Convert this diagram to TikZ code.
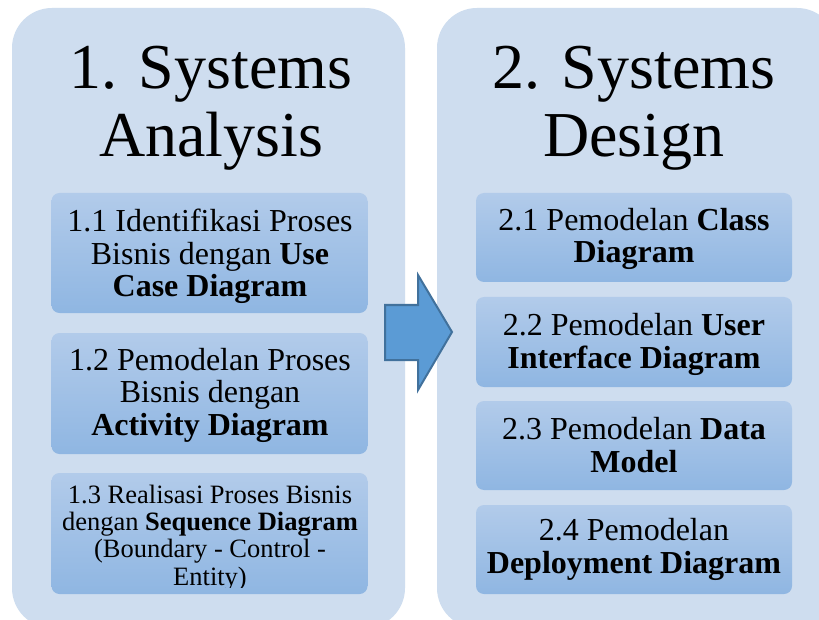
\documentclass[tikz,border=0pt]{standalone}
\usepackage{fontspec}
\setmainfont{Liberation Serif}
\definecolor{panel}{HTML}{CEDDEF}
\definecolor{boxtop}{HTML}{B2CBEA}
\definecolor{boxbot}{HTML}{8FB6E2}
\definecolor{arrowfill}{HTML}{5B9BD5}
\definecolor{arrowline}{HTML}{41719C}
\begin{document}
\begin{tikzpicture}[x=1pt,y=-1pt,
  panelbox/.style={fill=panel, draw=none, rounded corners=40pt, inner sep=0pt},
  stepbox/.style={rounded corners=8pt, top color=boxtop, bottom color=boxbot,
    minimum width=316pt, minimum height=#1, inner sep=0pt},
  steptext/.style={align=center, inner sep=0pt, anchor=base, font=\fontsize{32}{32.5}\selectfont},
  titletext/.style={align=center, font=\fontsize{64}{68}\selectfont, inner sep=0pt, anchor=base}]
\useasboundingbox (0,0) rectangle (819,620);
\clip (0,0) rectangle (819,620);
\fill[white] (0,0) rectangle (819,620);
% panels
\node[panelbox, minimum width=393pt, minimum height=620pt] (pA) at (208.5,318) {};
\node[panelbox, minimum width=400pt, minimum height=620pt] (pB) at (637,318) {};
% titles (anchor = baseline of last line)
\node[titletext] (tA) at (211,157) {1. Systems\\Analysis};
\node[titletext] (tB) at (634,157) {2. Systems\\Design};
% left boxes
\node[stepbox=120pt] (b11) at (209.5,253) {};
\node[stepbox=121pt] (b12) at (209.5,393.5) {};
\node[stepbox=121pt] (b13) at (209.5,533.5) {};
\node[steptext] (t11) at (210,297) {1.1 Identifikasi Proses\\Bisnis dengan \textbf{Use}\\\textbf{Case Diagram}};
\node[steptext] (t12) at (210,435) {1.2 Pemodelan Proses\\Bisnis dengan\\\textbf{Activity Diagram}};
\begin{scope}
\clip (52,473) rectangle (367,587);
\node[steptext, font=\fontsize{26.5}{27.3}\selectfont] (t13) at (210,585)
  {1.3 Realisasi Proses Bisnis\\dengan \textbf{Sequence Diagram}\\(Boundary - Control -\\Entity)};
\end{scope}
% right boxes
\node[stepbox=89pt] (b21) at (634,237.5) {};
\node[stepbox=90pt] (b22) at (634,342) {};
\node[stepbox=89pt] (b23) at (634,445.5) {};
\node[stepbox=89pt] (b24) at (634,549.5) {};
\node[steptext] (t21) at (634,263) {2.1 Pemodelan \textbf{Class}\\\textbf{Diagram}};
\node[steptext] (t22) at (634,368) {2.2 Pemodelan \textbf{User}\\\textbf{Interface Diagram}};
\node[steptext] (t23) at (634,472) {2.3 Pemodelan \textbf{Data}\\\textbf{Model}};
\node[steptext] (t24) at (634,573) {2.4 Pemodelan\\\textbf{Deployment Diagram}};
% block arrow
\draw[fill=arrowfill, draw=arrowline, line width=2pt, line join=miter]
  (385,305) -- (418,305) -- (418,275) -- (452,332) -- (418,390) -- (418,360) -- (385,360) -- cycle;
\end{tikzpicture}
\end{document}
